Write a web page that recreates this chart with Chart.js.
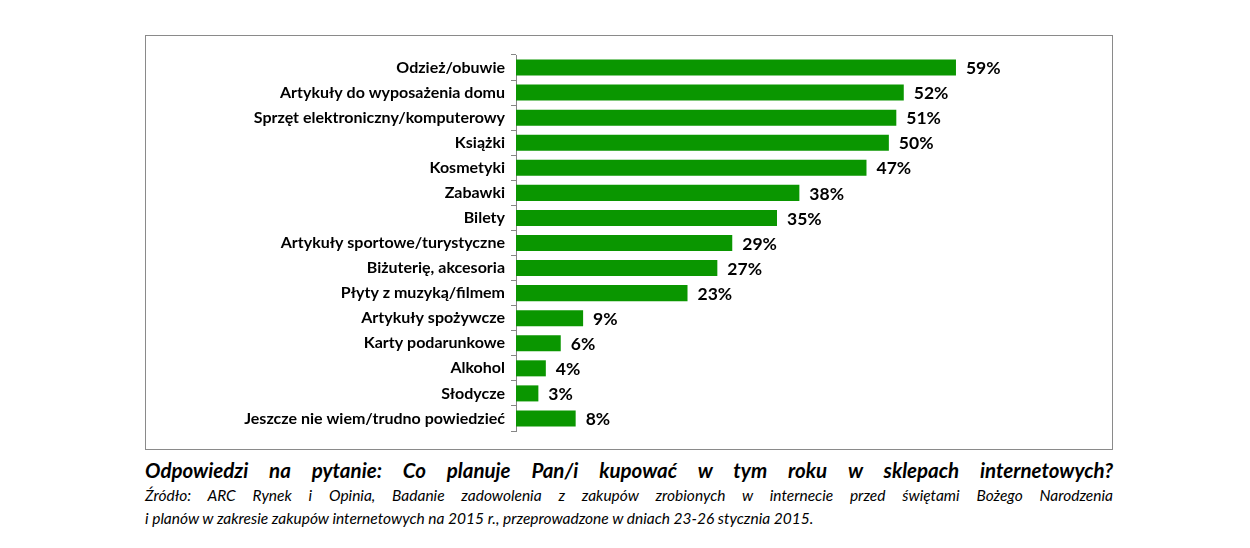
<!DOCTYPE html>
<html><head><meta charset="utf-8">
<script src="https://cdn.jsdelivr.net/npm/chart.js@4"></script>
<style>
body{margin:0;width:1250px;height:548px;background:#fff;position:relative;font-family:Lato,"Liberation Sans",sans-serif;}
#box{position:absolute;left:145px;top:35px;width:966px;height:413px;border:1px solid #8a8a8a;}
#cap{position:absolute;left:145px;top:456px;width:968px;color:#000;}
#t{font-weight:bold;font-style:italic;font-size:20.5px;text-align:justify;text-align-last:justify;line-height:28px;}
.s{font-style:italic;font-size:15.5px;line-height:23px;white-space:nowrap;}
#s1{text-align:justify;text-align-last:justify;white-space:normal;}
</style></head><body>
<div id="box"><canvas id="c" width="966" height="413"></canvas></div>
<div id="cap"><div id="t">Odpowiedzi na pytanie: Co planuje Pan/i kupować w tym roku w sklepach internetowych?</div>
<div class="s" id="s1">Źródło: ARC Rynek i Opinia, Badanie zadowolenia z zakupów zrobionych w internecie przed świętami Bożego Narodzenia</div>
<div class="s">i planów w zakresie zakupów internetowych na 2015 r., przeprowadzone w dniach 23-26 stycznia 2015.</div></div>
<script>
const categories=["Odzież/obuwie","Artykuły do wyposażenia domu","Sprzęt elektroniczny/komputerowy","Książki","Kosmetyki","Zabawki","Bilety","Artykuły sportowe/turystyczne","Biżuterię, akcesoria","Płyty z muzyką/filmem","Artykuły spożywcze","Karty podarunkowe","Alkohol","Słodycze","Jeszcze nie wiem/trudno powiedzieć"];
const values=[59,52,51,50,47,38,35,29,27,23,9,6,4,3,8];
const labelPlugin={id:'lbl',afterDatasetsDraw(ch){const ctx=ch.ctx;const m=ch.getDatasetMeta(0);ctx.save();ctx.font='bold 17.5px Lato, sans-serif';ctx.fillStyle='#000';ctx.textBaseline='middle';m.data.forEach((b,i)=>{ctx.fillText(values[i]+'%',b.x+10,b.y+1);});ctx.restore();}};
new Chart(document.getElementById('c'),{type:'bar',data:{labels:categories,datasets:[{data:values,backgroundColor:'#0a9600',barPercentage:0.64,categoryPercentage:1}]},
options:{indexAxis:'y',responsive:false,animation:false,layout:{padding:{top:19,bottom:18,right:74,left:0}},
plugins:{legend:{display:false},tooltip:{enabled:false}},
scales:{x:{display:false,min:0,max:70},
y:{afterFit(s){s.width=370;},border:{color:'#868686'},grid:{drawOnChartArea:false,offset:true,tickLength:5,color:'#868686'},ticks:{color:'#000',font:{family:'Lato',weight:'bold',size:16},padding:6}}}},plugins:[labelPlugin]});
</script></body></html>
